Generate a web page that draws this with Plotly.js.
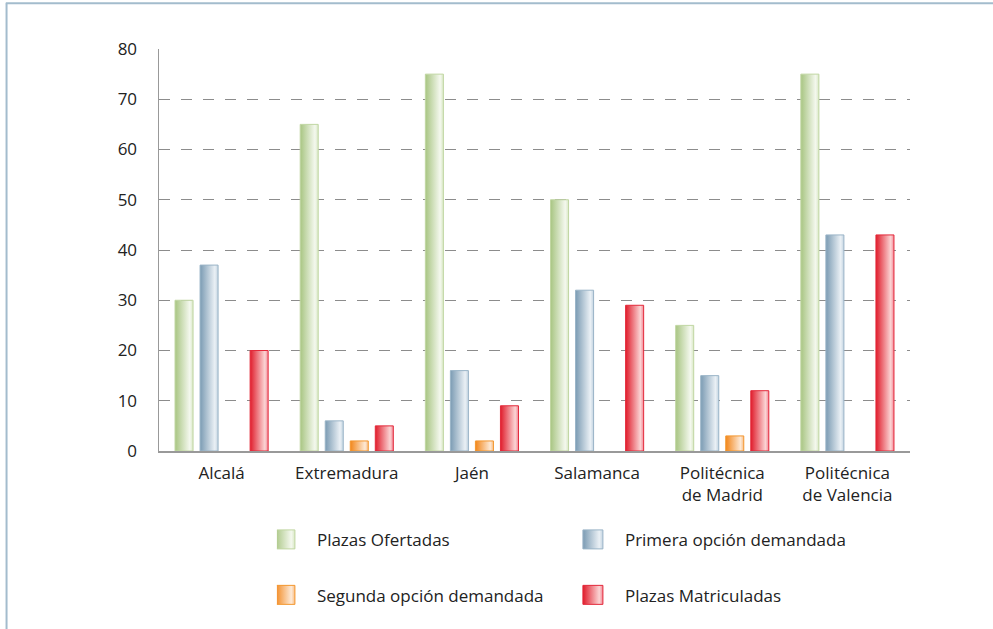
<!DOCTYPE html>
<html>
<head>
<meta charset="utf-8">
<script src="https://cdn.plot.ly/plotly-3.0.1.min.js"></script>
<style>
  html, body { margin: 0; padding: 0; background: #fff; }
  #chart { width: 993px; height: 629px; }
</style>
</head>
<body>
<div id="chart"></div>
<script>
var universidades = ['Alcalá', 'Extremadura', 'Jaén', 'Salamanca', 'Politécnica<br>de Madrid', 'Politécnica<br>de Valencia'];
var plazasOfertadas = [30, 65, 75, 50, 25, 75];
var primeraOpcion = [37, 6, 16, 32, 15, 43];
var segundaOpcion = [0, 2, 2, 0, 3, 0];
var plazasMatriculadas = [20, 5, 9, 29, 12, 43];

var nombres = ['Plazas Ofertadas', 'Primera opción demandada', 'Segunda opción demandada', 'Plazas Matriculadas'];
var series = [plazasOfertadas, primeraOpcion, segundaOpcion, plazasMatriculadas];

// left colour, light colour, right edge colour, border
var tonos = [
  ['#a8c582', '#f4f8ee', '#d9e8c6', '#c0d6a2'],
  ['#7b9bb3', '#eaf0f5', '#c3d4e1', '#9ab4c7'],
  ['#f2861a', '#fde9d6', '#f8bd85', '#f3972f'],
  ['#e01d2c', '#fbd4d4', '#f28796', '#e3293a']
];

var fuente = 'Open Sans, Noto Sans, sans-serif';

var data = series.map(function (vals, i) {
  return {
    type: 'bar',
    name: nombres[i],
    x: universidades,
    y: vals,
    legend: i < 2 ? 'legend' : 'legend2',
    marker: {
      color: tonos[i][0],
      // no outline where the value is 0
      line: { color: tonos[i][3], width: vals.map(function (v) { return v > 0 ? 1 : 0; }) }
    },
    hoverinfo: 'skip'
  };
});

var legendBase = {
  orientation: 'h',
  entrywidth: 263,
  entrywidthmode: 'pixels',
  xanchor: 'left',
  yanchor: 'middle',
  x: 0.157,
  bgcolor: 'rgba(0,0,0,0)',
  font: { family: fuente, size: 17, color: '#222' }
};

var layout = {
  width: 993,
  height: 629,
  margin: { l: 159, r: 83, t: 49, b: 178 },
  paper_bgcolor: '#fff',
  plot_bgcolor: '#fff',
  barmode: 'group',
  bargap: 0.2,
  bargroupgap: 0.28,
  font: { family: fuente, size: 17, color: '#222' },
  showlegend: true,
  legend: Object.assign({}, legendBase, { y: -0.221 }),
  legend2: Object.assign({}, legendBase, { y: -0.359 }),
  xaxis: {
    showline: true,
    linecolor: '#999',
    linewidth: 1.5,
    ticks: '',
    ticklabelstandoff: 6,
    tickfont: { family: fuente, size: 17, color: '#222' },
    fixedrange: true
  },
  yaxis: {
    range: [0, 80],
    dtick: 10,
    showline: true,
    linecolor: '#999',
    linewidth: 1.5,
    showgrid: true,
    gridcolor: '#8c8c8c',
    gridwidth: 1,
    griddash: '11px,11px',
    zeroline: false,
    ticks: '',
    ticklabelstandoff: 17,
    tickfont: { family: fuente, size: 17, color: '#222' },
    fixedrange: true
  },
  shapes: [
    { type: 'line', xref: 'paper', yref: 'paper', x0: -0.203, x1: -0.203, y0: 1.114, y1: -0.5, line: { color: '#a3bccd', width: 2 } },
    { type: 'line', xref: 'paper', yref: 'paper', x0: -0.204, x1: 1.2, y0: 1.114, y1: 1.114, line: { color: '#a3bccd', width: 2 } }
  ]
};

var ns = 'http://www.w3.org/2000/svg';

function degradados() {
  var svg = document.querySelector('#chart .main-svg');
  if (!svg) return;
  if (!document.getElementById('grad0')) {
    var defs = document.createElementNS(ns, 'defs');
    tonos.forEach(function (t, i) {
      var g = document.createElementNS(ns, 'linearGradient');
      g.setAttribute('id', 'grad' + i);
      g.setAttribute('x1', '0'); g.setAttribute('x2', '1');
      g.setAttribute('y1', '0'); g.setAttribute('y2', '0');
      [[0, t[0]], [0.82, t[1]], [1, t[2]]].forEach(function (s) {
        var stop = document.createElementNS(ns, 'stop');
        stop.setAttribute('offset', s[0]);
        stop.setAttribute('stop-color', s[1]);
        g.appendChild(stop);
      });
      defs.appendChild(g);
    });
    svg.insertBefore(defs, svg.firstChild);
  }

  document.querySelectorAll('#chart .barlayer .trace').forEach(function (tr, i) {
    tr.querySelectorAll('path').forEach(function (p) {
      p.style.fill = 'url(#grad' + i + ')';
    });
  });
  // legend2 uses its own text class, so look for any text in the entry
  document.querySelectorAll('#chart g.traces').forEach(function (item) {
    var txt = item.querySelector('text');
    if (!txt) return;
    var idx = nombres.indexOf(txt.textContent.trim());
    if (idx < 0) return;
    item.querySelectorAll('.legendpoints path').forEach(function (p) {
      p.setAttribute('d', 'M-2,9.5H-22V-9.5H-2Z');
      p.style.fill = 'url(#grad' + idx + ')';
      p.style.stroke = tonos[idx][3];
      p.style.strokeWidth = '1px';
    });
  });
}

var gd = document.getElementById('chart');
Plotly.newPlot(gd, data, layout, { displayModeBar: false, staticPlot: true }).then(function () {
  degradados();
  gd.on('plotly_afterplot', degradados);
});
</script>
</body>
</html>
